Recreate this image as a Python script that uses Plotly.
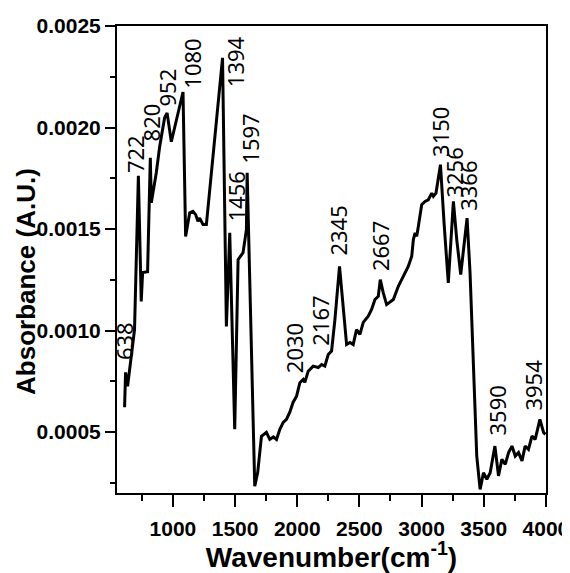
import plotly.graph_objects as go

# ---- data ----
wavenumber = [611, 619, 635, 651, 691, 722, 745, 756, 796, 818, 826, 866, 893, 933, 953, 987,
              1081, 1102, 1135, 1161, 1183, 1201, 1215, 1242, 1269, 1399, 1416, 1430, 1457, 1497,
              1524, 1564, 1591, 1597, 1658, 1682, 1712, 1752, 1779, 1808, 1833, 1860, 1887, 1913,
              1940, 1967, 1994, 2021, 2048, 2061, 2088, 2128, 2169, 2196, 2222, 2249, 2276, 2303,
              2340, 2370, 2397, 2424, 2450, 2477, 2504, 2531, 2571, 2598, 2625, 2652, 2668, 2692,
              2719, 2773, 2813, 2853, 2893, 2921, 2934, 2948, 2961, 2974, 3001, 3028, 3054, 3082,
              3095, 3116, 3152, 3181, 3215, 3256, 3283, 3315, 3366, 3390, 3417, 3444, 3471, 3498,
              3525, 3552, 3590, 3619, 3646, 3673, 3700, 3727, 3754, 3780, 3808, 3833, 3860, 3888,
              3914, 3952, 3982, 3996]
absorbance = [0.000622, 0.000794, 0.000725, 0.000809, 0.001005, 0.001762, 0.001143, 0.001286,
              0.001290, 0.001851, 0.001630, 0.001777, 0.001905, 0.002048, 0.002072, 0.001930,
              0.002175, 0.001463, 0.001580, 0.001587, 0.001571, 0.001538, 0.001554, 0.001522,
              0.001522, 0.002343, 0.001460, 0.001020, 0.001482, 0.000514, 0.001349, 0.001384,
              0.001497, 0.001777, 0.000233, 0.000302, 0.000479, 0.000499, 0.000464, 0.000476,
              0.000464, 0.000514, 0.000548, 0.000563, 0.000598, 0.000647, 0.000676, 0.000743,
              0.000759, 0.000745, 0.000800, 0.000825, 0.000818, 0.000833, 0.000825, 0.000882,
              0.000899, 0.001054, 0.001316, 0.001120, 0.000931, 0.000941, 0.000931, 0.001005,
              0.000981, 0.001040, 0.001071, 0.001104, 0.001153, 0.001169, 0.001251, 0.001186,
              0.001128, 0.001153, 0.001218, 0.001267, 0.001316, 0.001366, 0.001448, 0.001481,
              0.001464, 0.001513, 0.001620, 0.001636, 0.001644, 0.001677, 0.001661, 0.001677,
              0.001817, 0.001530, 0.001235, 0.001636, 0.001448, 0.001276, 0.001554, 0.001284,
              0.000792, 0.000382, 0.000218, 0.000300, 0.000268, 0.000300, 0.000431, 0.000284,
              0.000366, 0.000341, 0.000399, 0.000431, 0.000382, 0.000399, 0.000358, 0.000431,
              0.000415, 0.000480, 0.000464, 0.000563, 0.000497, 0.000489]

peak_labels = ["638", "722", "820", "952", "1080", "1394", "1456", "1597", "2030", "2167",
               "2345", "2667", "3150", "3256", "3366", "3590", "3954"]
label_x = [603, 696, 820, 949, 1151, 1501, 1505, 1618, 1980, 2186,
           2327, 2661, 3149, 3264, 3374, 3608, 3898]
label_y = [0.000946, 0.00187, 0.002023, 0.002195, 0.002313, 0.002323, 0.001659, 0.001944,
           0.000912, 0.00105, 0.001492, 0.001418, 0.001979, 0.00178, 0.001713, 0.000607, 0.00073]

x_ticks = [1000, 1500, 2000, 2500, 3000, 3500, 4000]
y_ticks = [0.0005, 0.0010, 0.0015, 0.0020, 0.0025]
y_tick_text = ["0.0005", "0.0010", "0.0015", "0.0020", "0.0025"]

TICK_FONT = dict(family="Liberation Sans, Arial", size=21, color="black", weight="bold")

fig = go.Figure()
fig.add_trace(go.Scatter(x=wavenumber, y=absorbance, mode="lines",
                         line=dict(color="black", width=3), showlegend=False))

for t, x, y in zip(peak_labels, label_x, label_y):
    fig.add_annotation(x=x, y=y, xref="x", yref="y", text=t, textangle=-90,
                       showarrow=False, xanchor="center", yanchor="middle",
                       font=dict(family="Noto Sans, Open Sans, DejaVu Sans", size=22, color="black"))

fig.add_annotation(x=-0.212, y=0.452, xref="paper", yref="paper",
                   text="Absorbance (A.U.)", textangle=-90, showarrow=False,
                   xanchor="center", yanchor="middle",
                   font=dict(family="Liberation Sans, Arial", size=26, color="black", weight="bold"))

# the page body adds an 8 px offset, so the figure is sized 8 px smaller
fig.update_layout(
    width=562, height=565,
    margin=dict(l=109, r=24, t=18, b=80),
    paper_bgcolor="white", plot_bgcolor="white",
    xaxis=dict(range=[550, 4001], tickvals=x_ticks, ticktext=[str(v) for v in x_ticks],
               ticks="outside", ticklen=12, tickwidth=2, tickcolor="black",
               minor=dict(dtick=250, tick0=0, ticks="outside", ticklen=6, tickwidth=2, tickcolor="black"),
               showline=True, linewidth=2, linecolor="black", mirror=True, automargin=False,
               showgrid=False, zeroline=False, tickfont=TICK_FONT, ticklabelstandoff=4,
               title=dict(text="Wavenumber(cm<sup>-1</sup>)", standoff=13,
                          font=dict(family="Liberation Sans, Arial", size=28, color="black", weight="bold"))),
    yaxis=dict(range=[0.0002, 0.0025], tickvals=y_ticks, ticktext=y_tick_text,
               ticks="outside", ticklen=10, tickwidth=2, tickcolor="black",
               minor=dict(dtick=0.00025, tick0=0, ticks="outside", ticklen=5, tickwidth=2, tickcolor="black"),
               showline=True, linewidth=2, linecolor="black", mirror=True, automargin=False,
               showgrid=False, zeroline=False, tickfont=TICK_FONT, ticklabelstandoff=0),
)

fig.write_html("out.html")
